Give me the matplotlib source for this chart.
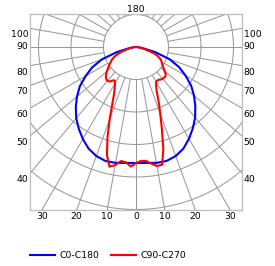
import numpy as np
import matplotlib
matplotlib.use("Agg")
import matplotlib.pyplot as plt

# intensity values (cd/klm), one ring = 100
gamma_blue = [0, 5, 10, 15, 20, 25, 30, 35, 40, 45, 50, 55, 60, 65, 70, 75, 80, 85, 90]
c0 = [357, 358, 362, 363, 357, 345, 326, 305, 283, 258, 233, 207, 176, 146, 110, 62, 22, 6, 0]
c180 = [357, 358, 362, 363, 357, 345, 327, 307, 286, 262, 237, 211, 179, 149, 112, 62, 22, 6, 0]

gamma_red = [0, 2.5, 5, 7.5, 10, 12.5, 15, 17.5, 20, 22.5, 25, 27.5, 30, 32.5, 35, 37.5,
             40, 42.5, 45, 47.5, 50, 52.5, 55, 57.5, 60, 62.5, 65, 67.5, 70, 72.5, 75,
             77.5, 80, 82.5, 85, 87.5, 90]
c90 = [357, 351, 352, 362, 372, 371, 325, 265, 218, 182, 151, 134, 124, 122, 123, 126,
       127, 128, 128, 124, 115, 107, 100, 95, 91, 86, 80, 72, 62, 46, 31,
       22, 15, 11, 7, 3, 0]
c270 = [357, 368, 356, 354, 369, 377, 345, 292, 237, 191, 160, 142, 129, 122, 126, 134,
        136, 135, 131, 125, 117, 109, 102, 95, 89, 83, 75, 66, 55, 43, 31,
        22, 15, 11, 7, 3, 0]

bottom_labels = [0, 10, 20, 30]
side_labels = [40, 50, 60, 70, 80, 90, 100]

X_EDGE = 326
Y_TOP = 101.5
Y_BOT = -501.5
GRID = "#9a9a9a"
FS = 6.7


def plane(gam, right, left):
    g = np.radians(np.array(gam, dtype=float))
    r_right = np.array(right, dtype=float)
    r_left = np.array(left, dtype=float)
    x = np.concatenate([-(r_left * np.sin(g))[::-1], r_right * np.sin(g)])
    y = np.concatenate([-(r_left * np.cos(g))[::-1], -r_right * np.cos(g)])
    return x, y


fig = plt.figure(figsize=(2.75, 2.66), dpi=100)
ax = fig.add_axes([30 / 275, 56 / 266, 212 / 275, 196 / 266])
ax.set_xlim(-X_EDGE, X_EDGE)
ax.set_ylim(Y_BOT, Y_TOP)
ax.set_aspect("equal")
ax.set_xticks([])
ax.set_yticks([])
for s in ax.spines.values():
    s.set_color("#bdbdbd")
    s.set_linewidth(0.9)

# polar grid: rings and 10 degree rays starting at the first ring
t = np.linspace(0, 2 * np.pi, 400)
for rr in range(100, 700, 100):
    ax.plot(rr * np.cos(t), rr * np.sin(t), color=GRID, lw=0.75, zorder=1)
for a in range(0, 360, 10):
    ar = np.radians(a)
    ax.plot([100 * np.sin(ar), 800 * np.sin(ar)], [-100 * np.cos(ar), -800 * np.cos(ar)],
            color=GRID, lw=0.75, zorder=1)

xb, yb = plane(gamma_blue, c0, c180)
ax.plot(xb, yb, color="#0000ff", lw=1.5, zorder=3, label="C0-C180")
xr, yr = plane(gamma_red, c90, c270)
ax.plot(xr, yr, color="#ff0000", lw=1.5, zorder=4, label="C90-C270")

# angle labels where the rays leave the frame
for g in bottom_labels:
    for sgn in ([1] if g == 0 else [-1, 1]):
        xx = sgn * (-Y_BOT) * np.tan(np.radians(g))
        ax.annotate(str(g), (xx, Y_BOT), xytext=(0, -4.7), textcoords="offset points",
                    ha="center", va="center", fontsize=FS, annotation_clip=False)
for g in side_labels:
    yy = 0 if g == 90 else -X_EDGE / np.tan(np.radians(g))
    dy = 0 if g == 90 else -4.6
    ax.annotate(str(g), (-X_EDGE, yy), xytext=(-1.2, dy), textcoords="offset points",
                ha="right", va="center", fontsize=FS, annotation_clip=False)
    ax.annotate(str(g), (X_EDGE, yy), xytext=(1.2, dy), textcoords="offset points",
                ha="left", va="center", fontsize=FS, annotation_clip=False)
ax.annotate("180", (0, Y_TOP), xytext=(0, 3.4), textcoords="offset points",
            ha="center", va="center", fontsize=FS, annotation_clip=False)

fig.legend(loc="center left", bbox_to_anchor=(30 / 275, 1 - 256 / 266), ncol=2,
           frameon=False, fontsize=FS, handlelength=2.7, handletextpad=0.45,
           columnspacing=1.3, borderpad=0, borderaxespad=0)

fig.savefig("out.png", dpi=100)
